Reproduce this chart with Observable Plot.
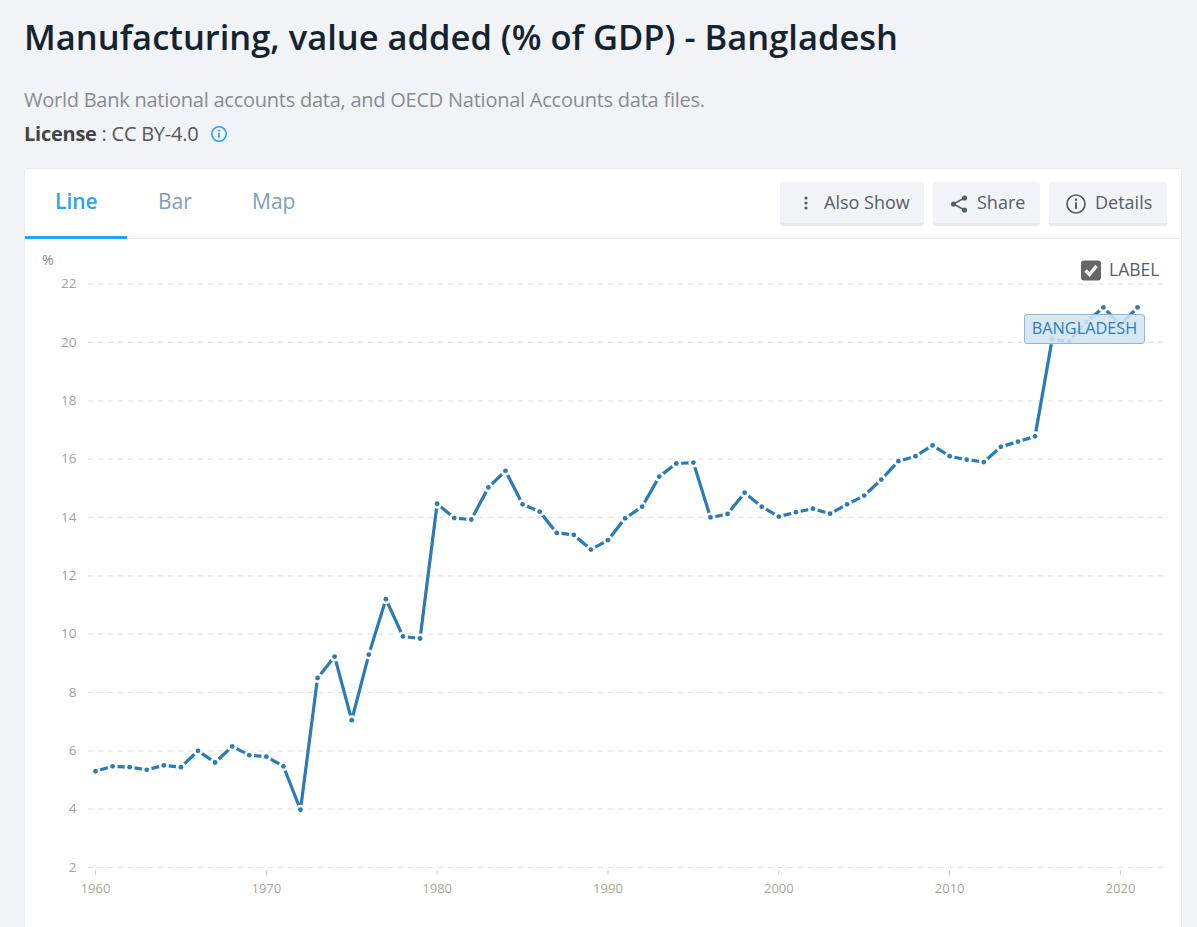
<!DOCTYPE html>
<html><head><meta charset="utf-8">
<script src="https://cdn.jsdelivr.net/npm/d3@7"></script>
<script src="https://cdn.jsdelivr.net/npm/@observablehq/plot@0.6"></script>
<style>
html,body{margin:0;padding:0;width:1197px;height:927px;overflow:hidden;background:#f1f3f7;font-family:"Open Sans",sans-serif}
.a{position:absolute;white-space:nowrap}
#card{left:24px;top:168px;width:1158px;height:780px;background:#fff;border:1px solid #e6e9ee;border-radius:3px;box-sizing:border-box}
.btn{top:182px;height:44px;background:#f1f3f7;border-bottom:3px solid #e8eaee;border-radius:3px;box-sizing:border-box;color:#555d66;font-size:18px;line-height:41px}
.btn span{position:absolute}
.btn svg{position:absolute}
#chart{left:25px;top:240px}
#chart svg{display:block}
</style></head><body>
<div class="a" style="left:24px;top:13px;font-size:34.5px;font-weight:600;color:#14232d;line-height:48px">Manufacturing, value added (% of GDP) - Bangladesh</div>
<div class="a" style="left:24px;top:86px;font-size:20px;color:#888c90;line-height:28px;letter-spacing:-.245px">World Bank national accounts data, and OECD National Accounts data files.</div>
<div class="a" style="left:24px;top:120px;font-size:20px;color:#555;line-height:28px;letter-spacing:-.25px"><b style="color:#444">License</b> : CC BY-4.0</div>
<svg class="a" style="left:210px;top:125px" width="18" height="18" viewBox="0 0 18 18"><circle cx="9" cy="9" r="7.2" fill="none" stroke="#29a3f0" stroke-width="1.6"/><circle cx="9" cy="5.6" r="1.1" fill="#29a3f0"/><rect x="8.2" y="7.8" width="1.6" height="5" fill="#29a3f0"/></svg>
<div class="a" id="card"></div>
<div class="a" style="left:25px;top:238px;width:1157px;height:1px;background:#e3e8ec"></div>
<div class="a" style="left:25px;top:236px;width:102px;height:3px;background:#1fa5f5"></div>
<div class="a" style="left:55px;top:186px;font-size:21px;font-weight:600;color:#2aa3ef;line-height:30px">Line</div>
<div class="a" style="left:158px;top:186px;font-size:21px;color:#80a0b5;line-height:30px">Bar</div>
<div class="a" style="left:252px;top:186px;font-size:21px;color:#80a0b5;line-height:30px">Map</div>
<div class="a btn" style="left:780px;width:144px"><svg style="left:22px;top:13px" width="8" height="16"><circle cx="4" cy="3" r="1.6" fill="#555d66"/><circle cx="4" cy="8" r="1.6" fill="#555d66"/><circle cx="4" cy="13" r="1.6" fill="#555d66"/></svg><span style="left:44px">Also Show</span></div>
<div class="a btn" style="left:933px;width:107px"><svg style="left:16px;top:12px" width="20" height="20"><path d="M15.5 4 L4.5 10 L15.5 16" fill="none" stroke="#555d66" stroke-width="1.5"/><circle cx="15.5" cy="4" r="2.6" fill="#555d66"/><circle cx="4.5" cy="10" r="2.6" fill="#555d66"/><circle cx="15.5" cy="16" r="2.6" fill="#555d66"/></svg><span style="left:44px">Share</span></div>
<div class="a btn" style="left:1049px;width:118px"><svg style="left:16px;top:11px" width="22" height="22"><circle cx="11" cy="11" r="9" fill="none" stroke="#555d66" stroke-width="1.7"/><circle cx="11" cy="6.7" r="1.3" fill="#555d66"/><rect x="10" y="9.4" width="2" height="6.5" fill="#555d66"/></svg><span style="left:46px">Details</span></div>
<div class="a" id="chart"></div>
<div class="a" style="left:42px;top:251px;font-size:14px;color:#888;line-height:18px">%</div>
<svg class="a" style="left:1081px;top:260px" width="20" height="21"><rect width="20" height="20" y="0.5" rx="3" fill="#666"/><path d="M4.5 10.5 L8.5 14.5 L15.5 6" fill="none" stroke="#fff" stroke-width="3.4"/></svg>
<div class="a" style="left:1109px;top:256px;font-size:17.5px;color:#555d66;line-height:26px">LABEL</div>
<div class="a" style="left:1024px;top:314px;width:121px;height:30px;box-sizing:border-box;background:rgba(211,229,241,.88);border:1.5px solid #8cb9db;border-radius:3px;color:#2c7db9;font-size:16.3px;line-height:27px;text-align:center">BANGLADESH</div>
<script>
const years = d3.range(1960, 2022);
const values = [5.3,5.47,5.44,5.35,5.5,5.44,6.0,5.6,6.15,5.85,5.8,5.47,3.98,8.5,9.23,7.05,9.3,11.2,9.92,9.85,14.47,13.98,13.93,15.03,15.6,14.45,14.2,13.47,13.4,12.9,13.22,13.97,14.37,15.4,15.85,15.88,14.0,14.12,14.85,14.37,14.03,14.18,14.3,14.13,14.45,14.75,15.3,15.93,16.1,16.47,16.1,15.98,15.9,16.42,16.6,16.78,20.1,20.03,20.7,21.2,20.6,21.2];
const yTicks = [2,4,6,8,10,12,14,16,18,20,22];
const xTicks = [1960,1970,1980,1990,2000,2010,2020];
const data = years.map((year,i)=>({year,value:values[i]}));
const lineColor = "#2a7ab8";
const chart = Plot.plot({
  width:1157, height:687,
  marginLeft:63, marginRight:19, marginTop:43.6, marginBottom:60,
  style:{background:"transparent",fontFamily:"'Open Sans',sans-serif",overflow:"visible"},
  x:{domain:[1959.59,2022.52],label:null},
  y:{domain:[2,22],label:null},
  marks:[
    Plot.ruleY(yTicks,{stroke:"#e2e2e2",strokeWidth:1.2,strokeDasharray:"5,5"}),
    Plot.axisY({ticks:yTicks,tickSize:0,tickPadding:12,fontSize:13.5,color:"#a0a0a0",label:null,tickFormat:d=>String(d)}),
    Plot.axisX({ticks:xTicks,tickSize:5,tickPadding:8,fontSize:13,color:"#a9a59c",stroke:"#ccc",label:null,tickFormat:d=>String(d),dy:3}),
    Plot.line(data,{x:"year",y:"value",stroke:lineColor,strokeWidth:3.2,curve:"linear"}),
    Plot.dot(data,{x:"year",y:"value",r:5,fill:"#fff",stroke:"none"}),
    Plot.dot(data,{x:"year",y:"value",r:2.4,fill:lineColor,stroke:"none"})
  ]
});
document.getElementById("chart").append(chart);
</script>
</body></html>
